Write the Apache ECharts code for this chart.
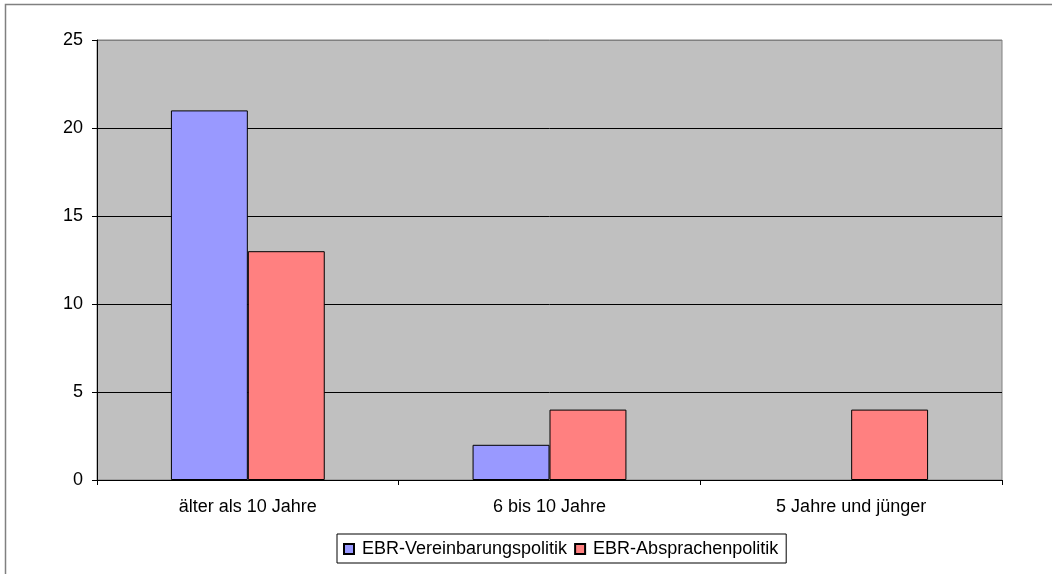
<!DOCTYPE html>
<html><head><meta charset="utf-8">
<script src="https://cdn.jsdelivr.net/npm/echarts@6/dist/echarts.min.js"></script>
<style>html,body{margin:0;padding:0;background:#fff}#c{width:1052px;height:574px}</style>
</head><body><div id="c"></div>
<script>
const categories = ['älter als 10 Jahre', '6 bis 10 Jahre', '5 Jahre und jünger'];
const vereinbarung = [21, 2, 0];
const absprachen = [13, 4, 4];
const seriesNames = ['EBR-Vereinbarungspolitik', 'EBR-Absprachenpolitik'];
const yTicks = [0, 5, 10, 15, 20, 25];

const chart = echarts.init(document.getElementById('c'), null, {renderer: 'canvas'});
const font = 'Liberation Sans, Arial, sans-serif';
const fs = 18;
const hideZero = v => v === 0 ? {value: 0, itemStyle: {borderWidth: 0}} : v;
chart.setOption({
  animation: false,
  graphic: [{
    type: 'rect', silent: true, z: -10,
    shape: {x: 5.5, y: 4.5, width: 2000, height: 2000},
    style: {fill: 'none', stroke: '#808080', lineWidth: 1.5}
  }],
  grid: {left: 97, right: 50, top: 40, bottom: 94, show: true,
         backgroundColor: '#C0C0C0', borderColor: '#808080', borderWidth: 1},
  legend: {
    left: 337, top: 534, orient: 'horizontal',
    data: seriesNames,
    itemWidth: 10, itemHeight: 10, itemGap: 7,
    borderColor: '#000', borderWidth: 1, padding: [6, 8, 5, 6],
    backgroundColor: '#fff',
    textStyle: {fontFamily: font, fontSize: fs, color: '#000', padding: [0, 0, 0, 3]},
    icon: 'rect'
  },
  xAxis: {
    type: 'category', data: categories,
    axisLine: {lineStyle: {color: '#000', width: 1}},
    axisTick: {show: true, alignWithLabel: false, length: 5, lineStyle: {color: '#000'}},
    axisLabel: {fontFamily: font, fontSize: fs, color: '#000', margin: 18}
  },
  yAxis: {
    type: 'value', min: 0, max: 25, interval: 5,
    axisLine: {show: true, lineStyle: {color: '#000'}},
    axisTick: {show: true, length: 5, lineStyle: {color: '#000'}},
    axisLabel: {fontFamily: font, fontSize: fs, color: '#000', margin: 14,
                formatter: v => yTicks.includes(v) ? String(v) : ''},
    splitLine: {show: true, lineStyle: {color: ['#000', '#000', '#000', '#000', '#000', '#808080'], width: 1}}
  },
  series: [
    {name: seriesNames[0], type: 'bar', data: vereinbarung.map(hideZero), barGap: '0%', barCategoryGap: '49%',
     itemStyle: {color: '#9999FF', borderColor: '#000', borderWidth: 1}},
    {name: seriesNames[1], type: 'bar', data: absprachen.map(hideZero), barGap: '0%', barCategoryGap: '49%',
     itemStyle: {color: '#FF8080', borderColor: '#000', borderWidth: 1}}
  ]
});
</script></body></html>
